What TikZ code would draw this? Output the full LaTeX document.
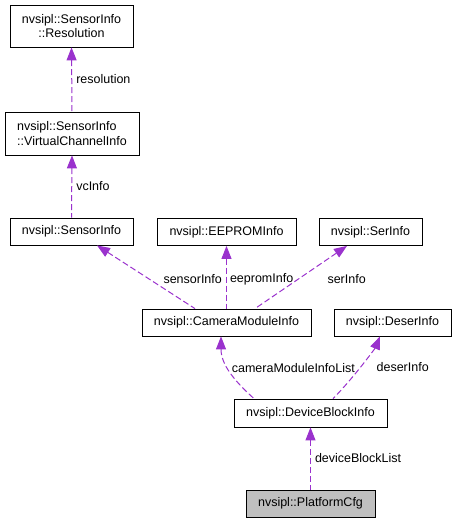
\documentclass[tikz,border=0pt]{standalone}
\usepackage{fontspec}
\setmainfont{Liberation Sans}
\usetikzlibrary{arrows.meta}
\definecolor{orchid}{HTML}{9A32CD}
\definecolor{cfgfill}{HTML}{BFBFBF}

\begin{document}
\begin{tikzpicture}[x=1pt, y=-1pt,
    cls/.style={draw=black, line width=0.8pt, inner sep=0pt, minimum height=27pt, font=\fontsize{12.5}{14.5}\selectfont},
    lbl/.style={text=black, inner sep=1pt, font=\fontsize{12.5}{14.5}\selectfont},
    uses/.style={<-, orchid, line width=1pt, dash pattern=on 6pt off 3pt, >={Triangle[length=13pt, width=10pt]}}]
    \useasboundingbox (0,0) rectangle (455,523);
    % classes
    \node[cls, minimum width=123pt, minimum height=42pt, align=center] (res) at (71.5,26) {nvsipl::SensorInfo\\::Resolution};
    \node[cls, minimum width=134pt, minimum height=43pt, align=left] (vci) at (72,133.5) {nvsipl::SensorInfo\\::VirtualChannelInfo};
    \node[cls, minimum width=123pt] (sen) at (71.5,231.5) {nvsipl::SensorInfo};
    \node[cls, minimum width=139pt] (eep) at (226.5,232) {nvsipl::EEPROMInfo};
    \node[cls, minimum width=103pt] (ser) at (370.5,232) {nvsipl::SerInfo};
    \node[cls, minimum width=169pt] (cmi) at (226.5,322.5) {nvsipl::CameraModuleInfo};
    \node[cls, minimum width=117pt] (des) at (392.5,322.5) {nvsipl::DeserInfo};
    \node[cls, minimum width=153pt, minimum height=28pt] (dbi) at (310.5,413) {nvsipl::DeviceBlockInfo};
    \node[cls, minimum width=129pt, fill=cfgfill] (pcf) at (310.5,503.5) {nvsipl::PlatformCfg};
    % members
    \draw[uses] (res.south) -- (vci.north) node[lbl, midway, right=3pt] (lres) {resolution};
    \draw[uses] (vci.south) -- (sen.north) node[lbl, midway, right=3pt] (lvc) {vcInfo};
    \draw[uses] ([xshift=25.5pt]sen.south) -- ([xshift=-31.5pt]cmi.north) node[lbl, midway, anchor=west, xshift=16pt, yshift=-2pt] (lsen) {sensorInfo};
    \draw[uses] (eep.south) -- (cmi.north) node[lbl, midway, right=2pt, yshift=-2pt] (leep) {eepromInfo};
    \draw[uses] ([xshift=-23.5pt]ser.south) -- ([xshift=28.5pt]cmi.north) node[lbl, midway, anchor=west, xshift=25pt, yshift=-2pt] (lser) {serInfo};
    \draw[uses] ([xshift=-5.5pt]cmi.south) .. controls +(0,28) and +(-20,-18) .. ([xshift=-56.5pt]dbi.north) node[lbl, pos=0.45, anchor=west, xshift=2pt] (lcmi) {cameraModuleInfoList};
    \draw[uses] ([xshift=-12.5pt]des.south) .. controls +(-5,12) and +(20,-20) .. ([xshift=22.5pt]dbi.north) node[lbl, pos=0.5, anchor=west, xshift=13pt, yshift=-3pt] (ldes) {deserInfo};
    \draw[uses] (dbi.south) -- (pcf.north) node[lbl, midway, right=3pt] (ldbl) {deviceBlockList};
\end{tikzpicture}
\end{document}
